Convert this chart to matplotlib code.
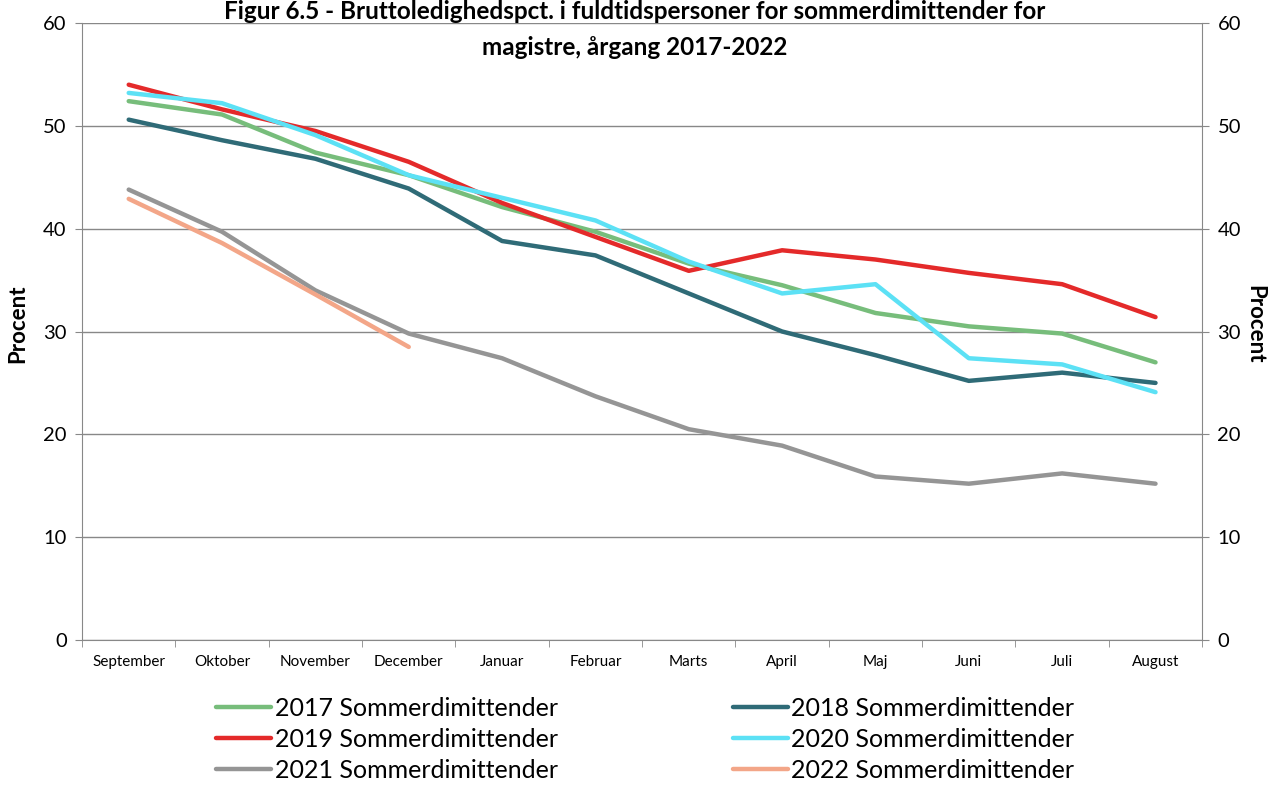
import matplotlib.pyplot as plt
import numpy as np

months = ["September", "Oktober", "November", "December", "Januar", "Februar",
          "Marts", "April", "Maj", "Juni", "Juli", "August"]

y2017 = [52.4, 51.1, 47.4, 45.2, 42.1, 39.7, 36.6, 34.5, 31.8, 30.5, 29.8, 27.0]
y2018 = [50.6, 48.6, 46.8, 43.9, 38.8, 37.4, 33.7, 30.0, 27.7, 25.2, 26.0, 25.0]
y2019 = [54.0, 51.6, 49.5, 46.5, 42.5, 39.2, 35.9, 37.9, 37.0, 35.7, 34.6, 31.4]
y2020 = [53.2, 52.2, 49.1, 45.2, 43.0, 40.8, 36.8, 33.7, 34.6, 27.4, 26.8, 24.1]
y2021 = [43.8, 39.7, 34.0, 29.8, 27.4, 23.7, 20.5, 18.9, 15.9, 15.2, 16.2, 15.2]
y2022 = [42.9, 38.6, 33.6, 28.5]

series = {
    "2017 Sommerdimittender": (y2017, "#77BD7B"),
    "2018 Sommerdimittender": (y2018, "#2F6B77"),
    "2019 Sommerdimittender": (y2019, "#E42A2A"),
    "2020 Sommerdimittender": (y2020, "#5CE1F5"),
    "2021 Sommerdimittender": (y2021, "#959595"),
    "2022 Sommerdimittender": (y2022, "#F3A688"),
}

plt.rcParams['font.family'] = ['Lato', 'DejaVu Sans']

fig = plt.figure(figsize=(12.7, 7.85), dpi=100)
ax = fig.add_axes([0.0646, 0.1847, 0.882, 0.786])

x = np.arange(len(months))
for label, (vals, col) in series.items():
    ax.plot(x[:len(vals)], vals, color=col, linewidth=3.2, label=label,
            solid_capstyle='round')

ax.set_xlim(-0.5, len(months) - 0.5)
ax.set_ylim(0, 60)
ax.set_yticks(range(0, 61, 10))
ax.set_xticks(x)
ax.set_xticklabels(months, fontsize=11)
ax.set_xticks(np.arange(-0.5, len(months), 1), minor=True)
ax.tick_params(axis='x', which='major', length=0, pad=11)
ax.tick_params(axis='x', which='minor', length=5, color='#888888', direction='out')
ax.tick_params(axis='y', labelsize=14.5, length=5, color='#888888', pad=6)
ax.grid(axis='y', color='#888888', linewidth=1)
ax.set_axisbelow(True)
for s in ['left', 'right', 'bottom']:
    ax.spines[s].set_color('#888888')
ax.spines['top'].set_visible(False)

ax2 = ax.twinx()
ax2.set_ylim(0, 60)
ax2.set_yticks(range(0, 61, 10))
ax2.tick_params(axis='y', labelsize=14.5, length=5, color='#888888', pad=6)
for s in ax2.spines.values():
    s.set_visible(False)

fig.text(0.014, 0.587, "Procent", rotation=90, fontsize=16, fontweight='bold',
         ha='center', va='center')
fig.text(0.988, 0.587, "Procent", rotation=-90, fontsize=16, fontweight='bold',
         ha='center', va='center')

fig.text(0.5, 1.0, "Figur 6.5 - Bruttoledighedspct. i fuldtidspersoner for sommerdimittender for\nmagistre, årgang 2017-2022",
         ha='center', va='top', fontsize=17.5, fontweight='bold', linespacing=1.7)

# fill legend column-wise so rows read 2017/2018, 2019/2020, 2021/2022
handles, labels = ax.get_legend_handles_labels()
order = [0, 2, 4, 1, 3, 5]
fig.legend([handles[i] for i in order], [labels[i] for i in order],
           loc='upper center', bbox_to_anchor=(0.508, 0.141),
           ncol=2, frameon=False, fontsize=18, handlelength=2.2,
           handletextpad=0.15, columnspacing=7.0, labelspacing=0.32)

fig.savefig("out.png", dpi=100)
